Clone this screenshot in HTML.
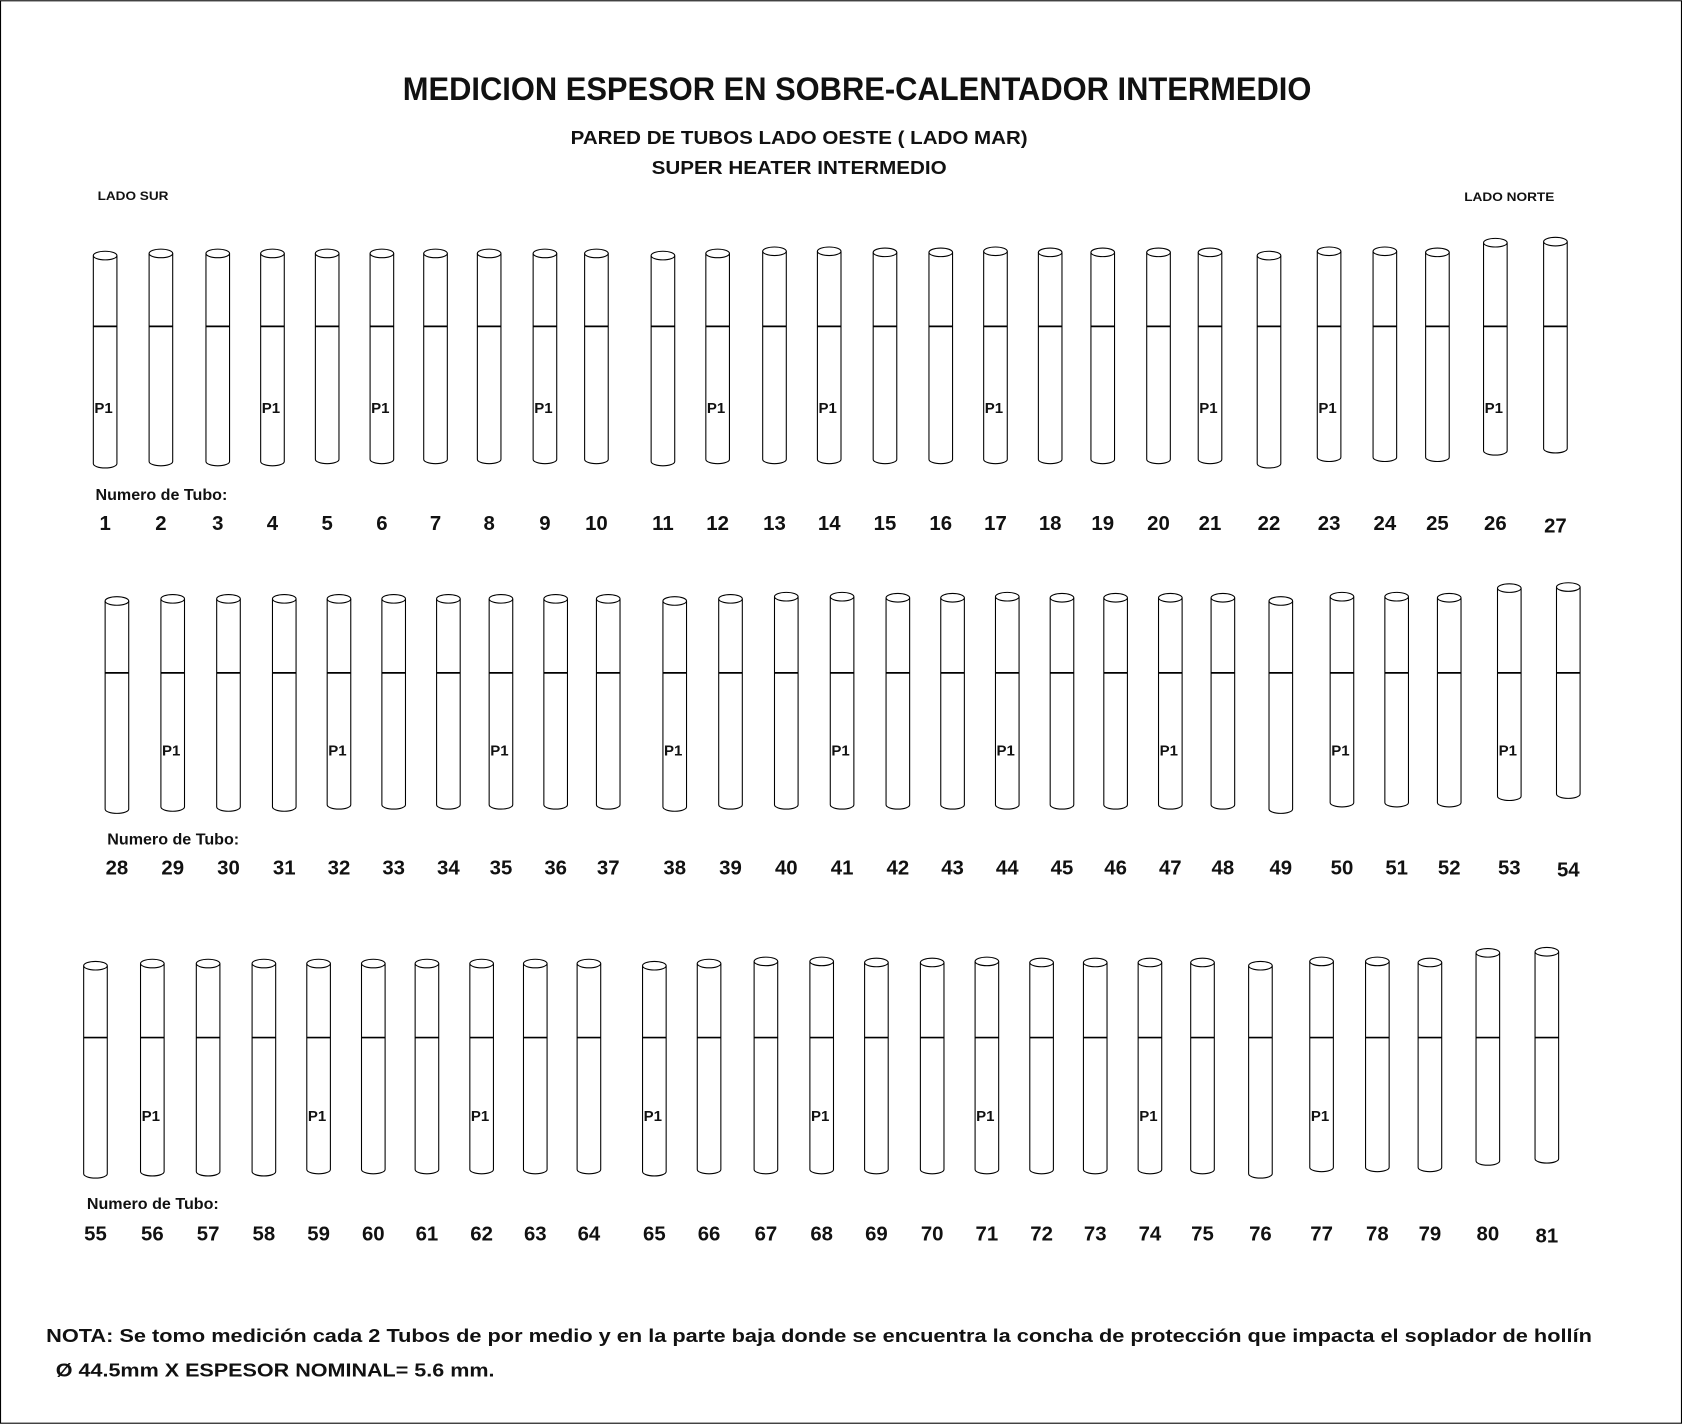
<!DOCTYPE html>
<html><head><meta charset="utf-8"><style>
html,body{margin:0;padding:0;background:#fff}
svg{display:block}
text{font-family:"Liberation Sans",sans-serif;font-weight:bold;fill:#111}
</style></head><body>
<svg id="chart" width="1682" height="1424" viewBox="0 0 1568 1327" xmlns="http://www.w3.org/2000/svg">
<rect x="0.5" y="0.5" width="1567" height="1326" fill="#fff" stroke="#000" stroke-width="1"/>
<text x="799" y="93" font-size="30" text-anchor="middle" textLength="847" lengthAdjust="spacingAndGlyphs">MEDICION ESPESOR EN SOBRE-CALENTADOR INTERMEDIO</text>
<text x="745" y="134" font-size="17" text-anchor="middle" textLength="426" lengthAdjust="spacingAndGlyphs">PARED DE TUBOS LADO OESTE ( LADO MAR)</text>
<text x="745" y="162" font-size="17" text-anchor="middle" textLength="275" lengthAdjust="spacingAndGlyphs">SUPER HEATER INTERMEDIO</text>
<text x="91" y="186" font-size="11" textLength="66" lengthAdjust="spacingAndGlyphs">LADO SUR</text>
<text x="1365" y="187" font-size="11" textLength="84" lengthAdjust="spacingAndGlyphs">LADO NORTE</text>
<text x="43" y="1251" font-size="17" textLength="1441" lengthAdjust="spacingAndGlyphs">NOTA: Se tomo medición cada 2 Tubos de por medio y en la parte baja donde se encuentra la concha de protección que impacta el soplador de hollín</text>
<text x="52" y="1283" font-size="17" textLength="409" lengthAdjust="spacingAndGlyphs">Ø 44.5mm X ESPESOR NOMINAL= 5.6 mm.</text>
<g id="tubes"></g>
</svg>
<script>
// data per row
const row1Tubes=[1,2,3,4,5,6,7,8,9,10,11,12,13,14,15,16,17,18,19,20,21,22,23,24,25,26,27];
const row2Tubes=[28,29,30,31,32,33,34,35,36,37,38,39,40,41,42,43,44,45,46,47,48,49,50,51,52,53,54];
const row3Tubes=[55,56,57,58,59,60,61,62,63,64,65,66,67,68,69,70,71,72,73,74,75,76,77,78,79,80,81];
const p1Tubes=[1,4,6,9,12,14,17,21,23,26,29,32,35,38,41,44,47,50,53,56,59,62,65,68,71,74,77];
// tube top/bottom offsets (px relative to row baseline), last two tubes of each row raised
const topOffsets=[0,-2,-2,-2,-2,-2,-2,-2,-2,-2,0,-2,-4,-4,-3,-3,-4,-3,-3,-3,-3,0,-4,-4,-3,-12,-13];
const bottomOffsets=[2,0,0,0,-2,-2,-2,-2,-2,-2,0,-2,-2,-2,-2,-2,-2,-2,-2,-2,-2,2,-4,-4,-4,-10,-12];
const rows=[
 {tubes:row1Tubes,top:238,bot:430,mid:304,p1y:385,numy:494,lblx:89,lbly:466,cx:[98,150,203,254,305,356,406,456,508,556,618,669,722,773,825,877,928,979,1028,1080,1128,1183,1239,1291,1340,1394,1450]},
 {tubes:row2Tubes,top:560,bot:752,mid:627,p1y:704,numy:815,lblx:100,lbly:787,cx:[109,161,213,265,316,367,418,467,518,567,629,681,733,785,837,888,939,990,1040,1091,1140,1194,1251,1302,1351,1407,1462]},
 {tubes:row3Tubes,top:900,bot:1092,mid:967,p1y:1045,numy:1156,lblx:81,lbly:1127,cx:[89,142,194,246,297,348,398,449,499,549,610,661,714,766,817,869,920,971,1021,1072,1121,1175,1232,1284,1333,1387,1442]}
];
const NS="http://www.w3.org/2000/svg";
const g=document.getElementById('tubes');
function mk(tag,attrs){const e=document.createElementNS(NS,tag);for(const k in attrs)e.setAttribute(k,attrs[k]);return e;}
rows.forEach((r,ri)=>{
 const lbl=mk('text',{x:r.lblx,y:r.lbly,'font-size':15});
 lbl.textContent='Numero de Tubo:';
 
 
 g.appendChild(lbl);
 r.tubes.forEach((n,i)=>{
  const cx=r.cx[i],w=22,hw=w/2;
  const t=r.top+topOffsets[i],b=r.bot+bottomOffsets[i];
  const tg=mk('g',{});
  
  
  tg.appendChild(mk('path',{d:`M${cx-hw},${t} L${cx-hw},${b} A${hw},4 0 0 0 ${cx+hw},${b} L${cx+hw},${t}`,fill:'none',stroke:'#000','stroke-width':1}));
  tg.appendChild(mk('ellipse',{cx:cx,cy:t,rx:hw,ry:4,fill:'#fff',stroke:'#000','stroke-width':1}));
  tg.appendChild(mk('line',{x1:cx-hw,x2:cx+hw,y1:r.mid,y2:r.mid,stroke:'#000','stroke-width':1.6}));
  if(p1Tubes.includes(n)){
   const p=mk('text',{x:cx-hw+1,y:r.p1y,'font-size':14});
   p.textContent='P1';
   
   
   tg.appendChild(p);
  }
  g.appendChild(tg);
  const num=mk('text',{x:cx,y:r.numy+(i===26?2:0),'font-size':19,'text-anchor':'middle'});
  num.textContent=String(n);
  
  
  g.appendChild(num);
 });
});
</script>
</body></html>
